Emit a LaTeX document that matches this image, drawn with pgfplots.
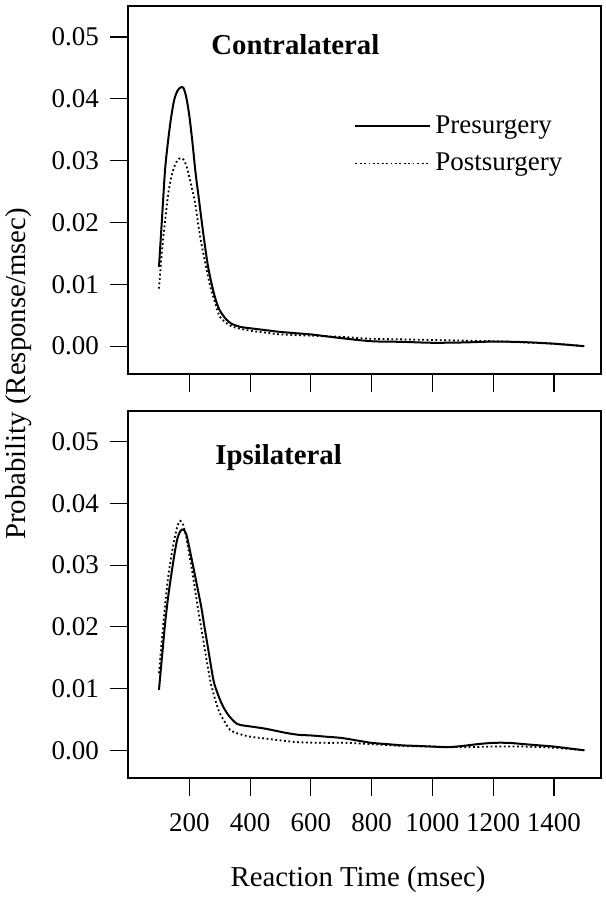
\documentclass[border=0pt]{standalone}
\usepackage{fontspec}
\setmainfont{Liberation Serif}
\usepackage{pgfplots}
\pgfplotsset{compat=1.18}

\pgfplotsset{
 panel/.style={
  scale only axis, width=236.5pt,
  xmin=-2, xmax=1555, ymin=-0.0045, ymax=0.055,
  axis line style={line width=0.7pt},
  tick align=outside, major tick length=9pt,
  every tick/.style={black, line width=0.6pt},
  tick pos=left,
  xtick={200,400,600,800,1000,1200,1400},
  ytick={0,0.01,0.02,0.03,0.04,0.05},
  yticklabels={0.00,0.01,0.02,0.03,0.04,0.05},
  scaled y ticks=false, scaled x ticks=false,
  ticklabel style={font=\fontsize{13.5}{16}\selectfont},
  yticklabel style={xshift=-2pt},
  xticklabel style={yshift=-5pt},
  clip=false,
 },
 pre/.style={black, line width=1pt, smooth, tension=0.5},
 post/.style={black, line width=0.9pt, dash pattern=on 0.9pt off 1.3pt, smooth, tension=0.5},
}

\begin{document}
\begin{tikzpicture}
\path[use as bounding box] (0pt,0pt) rectangle (302.5pt,-449.5pt);

\begin{axis}[panel, at={(64pt,-3pt)}, anchor=north west, height=184pt,
  xticklabels={},
  legend style={draw=none, fill=none, at={(rel axis cs:0.465,0.7255)}, anchor=north west,
    font=\fontsize{13.5}{16}\selectfont, row sep=4.5pt},
  legend cell align=left,
  legend image code/.code={\draw[#1] (0pt,0pt) -- (31pt,0pt); \path (31pt,0pt) -- (37.5pt,0pt);},
]
\addplot[pre] table {
100 0.0128
110 0.0207
120 0.0285
130 0.0332
140 0.0370
150 0.0398
160 0.0412
170 0.0418
180 0.0418
190 0.0402
200 0.0372
210 0.0330
220 0.0282
230 0.0243
240 0.0204
250 0.0167
260 0.0133
270 0.0108
280 0.0087
290 0.0070
300 0.0058
320 0.0044
340 0.0036
370 0.0031
400 0.0029
450 0.0026
500 0.0023
550 0.0021
600 0.0019
650 0.0016
700 0.0013
800 0.0008
900 0.0007
1000 0.00055
1100 0.0006
1200 0.00074
1300 0.00066
1400 0.0004
1500 0.0000
};
\addplot[post] table {
100 0.0093
110 0.0155
120 0.0202
130 0.0245
140 0.0272
150 0.0290
160 0.0300
170 0.0304
180 0.0302
190 0.0292
200 0.0273
210 0.0252
220 0.0228
230 0.0194
240 0.0165
250 0.0140
260 0.0116
270 0.0094
280 0.0078
290 0.0062
300 0.0048
320 0.0038
345 0.0031
400 0.0025
450 0.0022
500 0.0019
600 0.0017
700 0.0015
800 0.0012
900 0.0011
1000 0.0010
1100 0.0009
1200 0.0008
1300 0.0006
1400 0.0004
1500 0.0000
};
\legend{Presurgery,Postsurgery}
\node[anchor=base west, inner sep=0pt, font=\fontsize{14.4}{17}\selectfont\bfseries] at (rel axis cs:0.1755,0.867) {Contralateral};
\end{axis}

\begin{axis}[panel, at={(64pt,-205.5pt)}, anchor=north west, height=183.5pt,
  xticklabels={200,400,600,800,1000,1200,1400},
]
\addplot[pre] table {
100 0.0098
110 0.0152
120 0.0205
130 0.0248
140 0.0283
150 0.0315
160 0.0342
170 0.0355
180 0.0358
190 0.0350
200 0.0328
210 0.0304
220 0.0280
230 0.0255
240 0.0230
250 0.0199
260 0.0170
270 0.0140
280 0.0112
290 0.0096
300 0.0083
312 0.0070
330 0.0056
356 0.0043
380 0.0040
410 0.0038
450 0.0035
480 0.0032
520 0.0028
560 0.0025
600 0.0024
650 0.0022
700 0.0020
750 0.0016
800 0.0012
850 0.0010
900 0.0008
950 0.0007
1000 0.0006
1050 0.0005
1100 0.0007
1150 0.0010
1200 0.0012
1250 0.0012
1300 0.0010
1350 0.0008
1400 0.0006
1450 0.0003
1500 0.0000
};
\addplot[post] table {
100 0.0125
110 0.0182
120 0.0235
130 0.0280
140 0.0313
150 0.0340
160 0.0362
170 0.0372
180 0.0365
190 0.0345
200 0.0316
210 0.0288
220 0.0256
230 0.0225
240 0.0196
250 0.0166
260 0.0137
270 0.0110
280 0.0091
290 0.0074
300 0.0060
320 0.0043
334 0.0033
360 0.0027
400 0.0022
450 0.0019
500 0.0016
560 0.0013
650 0.0012
720 0.0012
800 0.0010
900 0.0007
1000 0.0006
1100 0.0005
1200 0.0006
1300 0.0006
1400 0.0004
1500 0.0000
};
\node[anchor=base west, inner sep=0pt, font=\fontsize{14.4}{17}\selectfont\bfseries] at (rel axis cs:0.184,0.853) {Ipsilateral};
\end{axis}

\node[rotate=90, inner sep=0pt, font=\fontsize{14.4}{17}\selectfont] at (9.25pt,-187pt) {Probability (Response/msec)};
\node[inner sep=0pt, font=\fontsize{14.4}{17}\selectfont] at (179pt,-440pt) {Reaction Time (msec)};
\end{tikzpicture}
\end{document}
